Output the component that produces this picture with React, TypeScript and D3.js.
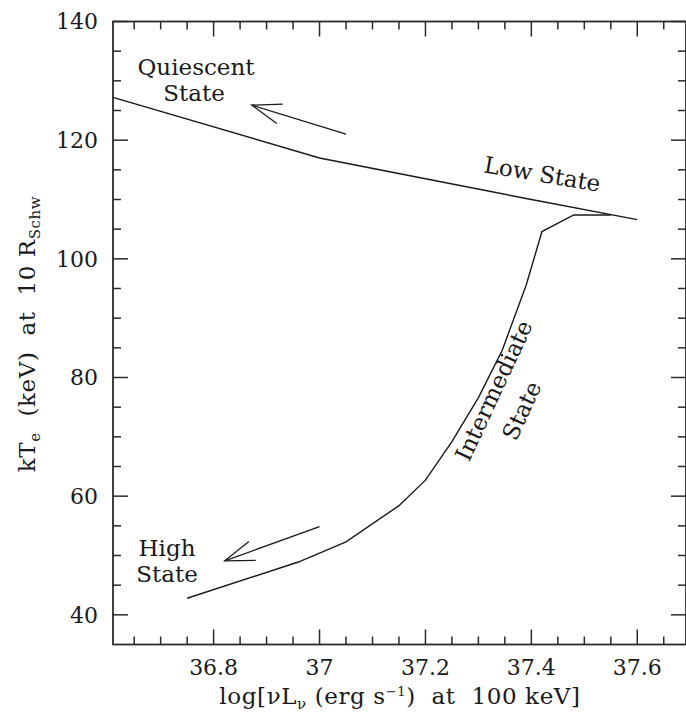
import React from "react";
import * as d3 from "d3";

// Low-state branch: log luminosity vs electron temperature
const lowLogL = [36.61, 37.0, 37.2, 37.4, 37.6];
const lowKT = [127.2, 117.0, 113.5, 110.0, 106.6];

// Intermediate branch, from the high state up to the low-state track
const midLogL = [36.75, 36.96, 37.05, 37.15, 37.2, 37.25, 37.3, 37.345, 37.39, 37.42, 37.48, 37.55];
const midKT = [42.8, 48.9, 52.3, 58.4, 62.7, 69.2, 76.6, 84.6, 95.5, 104.6, 107.4, 107.4];

// Transition arrows: [tailLogL, tailKT, headLogL, headKT]
const arrowQuiescent = [37.05, 121.0, 36.872, 125.9];
const arrowHigh = [37.0, 54.85, 36.821, 49.1];

const xMajor = [36.8, 37.0, 37.2, 37.4, 37.6];
const xMajorLabels = ["36.8", "37", "37.2", "37.4", "37.6"];
const yMajor = [40, 60, 80, 100, 120, 140];
const yMajorLabels = ["40", "60", "80", "100", "120", "140"];

const W = 686;
const H = 713;
const FONT = "'DejaVu Serif', serif";
const INK = "#1a1a1a";

export default function App() {
  const left = 113;
  const right = 686;
  const top = 21.5;
  const bottom = 644.5;

  const x = d3.scaleLinear().domain([36.61, 37.692]).range([left, right]);
  const y = d3.scaleLinear().domain([35, 140]).range([bottom, top]);

  const line = d3
    .line<[number, number]>()
    .x((d) => x(d[0]))
    .y((d) => y(d[1]));

  const lowPts = lowLogL.map((v, i) => [v, lowKT[i]] as [number, number]);
  const midPts = midLogL.map((v, i) => [v, midKT[i]] as [number, number]);

  const xMinor = d3.range(36.65, 37.69, 0.05).filter(
    (v) => !xMajor.some((m) => Math.abs(m - v) < 1e-6)
  );
  const yMinor = d3.range(35, 140.01, 5).filter(
    (v) => !yMajor.some((m) => Math.abs(m - v) < 1e-6) && v > 35
  );

  const MAJ = 15;
  const MIN = 8;

  const arrow = (a: number[], key: string) => {
    const x1 = x(a[0]);
    const y1 = y(a[1]);
    const x2 = x(a[2]);
    const y2 = y(a[3]);
    const ang = Math.atan2(y1 - y2, x1 - x2);
    const len = 31;
    const spread = (19 * Math.PI) / 180;
    const b1 = [x2 + len * Math.cos(ang - spread), y2 + len * Math.sin(ang - spread)];
    const b2 = [x2 + len * Math.cos(ang + spread), y2 + len * Math.sin(ang + spread)];
    return (
      <g key={key} stroke={INK} strokeWidth={1.3} fill="none">
        <line x1={x1} y1={y1} x2={x2} y2={y2} />
        <polyline points={`${b1[0]},${b1[1]} ${x2},${y2} ${b2[0]},${b2[1]}`} />
      </g>
    );
  };

  return (
    <svg
      width={W}
      height={H}
      style={{ position: "absolute", left: 0, top: 0, background: "#fff" }}
      fontFamily={FONT}
    >
      <rect x={0} y={0} width={W} height={H} fill="#fff" />

      {/* frame */}
      <rect
        x={left}
        y={top}
        width={right - left}
        height={bottom - top}
        fill="none"
        stroke="#2a2a2a"
        strokeWidth={1.8}
      />

      {/* ticks on all four sides, pointing inward */}
      <g stroke="#2a2a2a" strokeWidth={1.5}>
        {xMajor.map((v) => (
          <g key={`xm${v}`}>
            <line x1={x(v)} x2={x(v)} y1={bottom} y2={bottom - MAJ} />
            <line x1={x(v)} x2={x(v)} y1={top} y2={top + MAJ} />
          </g>
        ))}
        {xMinor.map((v) => (
          <g key={`xn${v}`}>
            <line x1={x(v)} x2={x(v)} y1={bottom} y2={bottom - MIN} />
            <line x1={x(v)} x2={x(v)} y1={top} y2={top + MIN} />
          </g>
        ))}
        {yMajor.map((v) => (
          <g key={`ym${v}`}>
            <line x1={left} x2={left + MAJ} y1={y(v)} y2={y(v)} />
            <line x1={right} x2={right - MAJ} y1={y(v)} y2={y(v)} />
          </g>
        ))}
        {yMinor.map((v) => (
          <g key={`yn${v}`}>
            <line x1={left} x2={left + MIN} y1={y(v)} y2={y(v)} />
            <line x1={right} x2={right - MIN} y1={y(v)} y2={y(v)} />
          </g>
        ))}
      </g>

      {/* tick labels */}
      <g fill={INK} fontSize={22}>
        {xMajor.map((v, i) => (
          <text key={`xl${v}`} x={x(v)} y={675} textAnchor="middle">
            {xMajorLabels[i]}
          </text>
        ))}
        {yMajor.map((v, i) => (
          <text key={`yl${v}`} x={98} y={y(v)} dy="0.36em" textAnchor="end">
            {yMajorLabels[i]}
          </text>
        ))}
      </g>

      {/* axis titles */}
      <text
        x={400}
        y={704}
        textAnchor="middle"
        fontSize={23}
        letterSpacing={0.6}
        fill={INK}
        xmlSpace="preserve"
      >
        log[νL
        <tspan fontSize={15} dy={5}>ν</tspan>
        <tspan dy={-5}>{" (erg s"}</tspan>
        <tspan fontSize={13} dy={-8}>−1</tspan>
        <tspan dy={8}>{")  at  100 keV]"}</tspan>
      </text>
      <text
        transform={`translate(35, ${(top + bottom) / 2 + 1}) rotate(-90)`}
        textAnchor="middle"
        fontSize={23}
        letterSpacing={0.6}
        fill={INK}
        xmlSpace="preserve"
      >
        kT
        <tspan fontSize={15} dy={5}>e</tspan>
        <tspan dy={-5}>{"  (keV)  at  10 R"}</tspan>
        <tspan fontSize={15} dy={5}>Schw</tspan>
      </text>

      {/* curves */}
      <path d={line(lowPts) ?? ""} fill="none" stroke={INK} strokeWidth={1.4} />
      <path d={line(midPts) ?? ""} fill="none" stroke={INK} strokeWidth={1.4} />

      {arrow(arrowQuiescent, "aq")}
      {arrow(arrowHigh, "ah")}

      {/* state annotations */}
      <g fill={INK} fontSize={23}>
        <text x={196} y={75} textAnchor="middle">Quiescent</text>
        <text x={194} y={101} textAnchor="middle">State</text>
        <text x={167} y={556} textAnchor="middle">High</text>
        <text x={167} y={582} textAnchor="middle">State</text>
        <text transform="translate(541, 182) rotate(9.5)" textAnchor="middle">
          Low State
        </text>
        <text transform="translate(501, 394) rotate(-65)" textAnchor="middle">
          Intermediate
        </text>
        <text transform="translate(529, 414) rotate(-65)" textAnchor="middle">
          State
        </text>
      </g>
    </svg>
  );
}
